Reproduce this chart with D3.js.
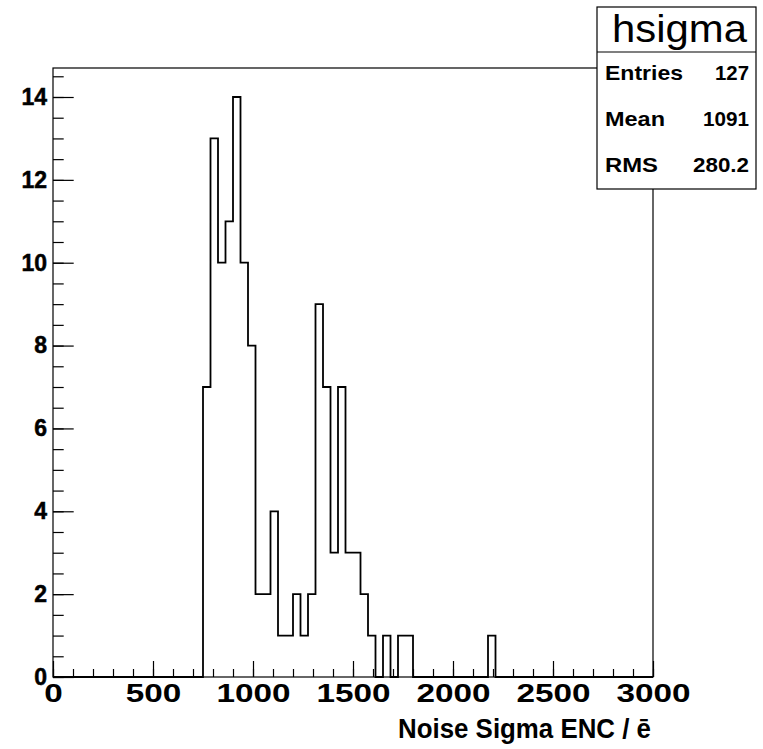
<!DOCTYPE html>
<html>
  <head>
    <meta charset="utf-8">
    <title>hsigma</title>
    <style>
      body { margin: 0; background: #fff; }
      svg { display: block; }
    </style>
  </head>
  <body>
    <div id="container"></div>
    <script src="https://cdn.jsdelivr.net/npm/d3@7/dist/d3.min.js"></script>
    <script>
      // histogram hsigma : 80 bins from 0 to 3000
      var xMin = 0, xMax = 3000, nBins = 80;
      var counts = [
        0,0,0,0,0,0,0,0,0,0,
        0,0,0,0,0,0,0,0,0,0,
        7,13,10,11,14,10,8,2,2,4,
        1,1,2,1,2,9,7,3,7,3,
        3,2,1,0,1,0,1,1,0,0,
        0,0,0,0,0,0,0,0,1,0,
        0,0,0,0,0,0,0,0,0,0,
        0,0,0,0,0,0,0,0,0,0
      ];
      var yMax = 14.7;
      var xMajor = [0, 500, 1000, 1500, 2000, 2500, 3000];
      var yMajor = [0, 2, 4, 6, 8, 10, 12, 14];
      var statNames = ["Entries", "Mean", "RMS"];
      var statValues = ["127", "1091", "280.2"];
      var histName = "hsigma";
      var xTitle = "Noise Sigma ENC / \u0113";

      var W = 763, H = 749;
      var margin = {top: 68, right: 110, bottom: 72, left: 53},
        width = W - margin.left - margin.right,
        height = H - margin.top - margin.bottom;

      var x = d3.scaleLinear().domain([xMin, xMax]).range([0, width]);
      var y = d3.scaleLinear().domain([0, yMax]).range([height, 0]);

      var svg = d3.select("#container").append("svg")
        .attr("width", W)
        .attr("height", H)
        .style("font-family", "'Liberation Sans', Arial, sans-serif");

      var g = svg.append("g")
        .attr("transform", "translate(" + margin.left + "," + margin.top + ")");

      // frame
      g.append("rect")
        .attr("x", 0).attr("y", 0)
        .attr("width", width).attr("height", height)
        .attr("fill", "none").attr("stroke", "#000").attr("stroke-width", 1.2);

      // histogram outline, ROOT style steps
      var bw = (xMax - xMin) / nBins;
      var pts = [[xMin, 0]];
      counts.forEach(function(c, i) {
        pts.push([xMin + i * bw, c]);
        pts.push([xMin + (i + 1) * bw, c]);
      });
      pts.push([xMax, 0]);

      g.append("path")
        .datum(pts)
        .attr("fill", "none")
        .attr("stroke", "#000")
        .attr("stroke-width", 1.8)
        .attr("d", d3.line().x(function(d) { return x(d[0]); }).y(function(d) { return y(d[1]); }));

      // y axis: minor ticks then major ticks with labels
      var yMinor = d3.range(0, yMax, 0.5);
      g.append("g")
        .call(d3.axisLeft(y).tickValues(yMinor).tickSize(-10.7).tickSizeOuter(0).tickFormat(""))
        .call(function(s) { s.select(".domain").remove(); });
      var ya = g.append("g")
        .call(d3.axisLeft(y).tickValues(yMajor).tickSize(-20.7).tickSizeOuter(0).tickPadding(6).tickFormat(d3.format("d")));
      ya.select(".domain").remove();
      ya.selectAll("text")
        .attr("font-size", 23).attr("font-weight", "bold")
        .attr("font-family", "'Liberation Sans', Arial, sans-serif")
        .attr("fill", "#000")
        .attr("stroke", "#000").attr("stroke-width", 0.5);

      // x axis
      var xMinor = d3.range(xMin, xMax + 1, 100);
      g.append("g")
        .attr("transform", "translate(0," + height + ")")
        .call(d3.axisBottom(x).tickValues(xMinor).tickSize(-8).tickSizeOuter(0).tickFormat(""))
        .call(function(s) { s.select(".domain").remove(); });
      var xa = g.append("g")
        .attr("transform", "translate(0," + height + ")")
        .call(d3.axisBottom(x).tickValues(xMajor).tickSize(-16).tickSizeOuter(0).tickPadding(7).tickFormat(d3.format("d")));
      xa.select(".domain").remove();
      xa.selectAll("text")
        .attr("font-size", 26).attr("font-weight", "bold")
        .attr("font-family", "'Liberation Sans', Arial, sans-serif")
        .attr("fill", "#000")
        .attr("textLength", function(d) { return String(d).length * 18.5; })
        .attr("lengthAdjust", "spacingAndGlyphs");

      g.selectAll(".tick line").attr("stroke", "#000").attr("stroke-width", 1.2);

      // x title
      g.append("text")
        .attr("x", width - 2)
        .attr("y", height + 61)
        .attr("text-anchor", "end")
        .attr("font-size", 27)
        .attr("font-weight", "bold")
        .attr("textLength", 253)
        .attr("lengthAdjust", "spacingAndGlyphs")
        .text(xTitle);

      // stats box
      var box = {x: 597, y: 7, w: 159, h: 182, split: 52};
      var sb = svg.append("g");
      sb.append("rect")
        .attr("x", box.x).attr("y", box.y)
        .attr("width", box.w).attr("height", box.h)
        .attr("fill", "#fff").attr("stroke", "#000").attr("stroke-width", 1.2);
      sb.append("line")
        .attr("x1", box.x).attr("x2", box.x + box.w)
        .attr("y1", box.split).attr("y2", box.split)
        .attr("stroke", "#000").attr("stroke-width", 1.2);
      sb.append("text")
        .attr("x", box.x + box.w / 2 + 3)
        .attr("y", 42)
        .attr("text-anchor", "middle")
        .attr("font-size", 39)
        .attr("textLength", 135)
        .attr("lengthAdjust", "spacingAndGlyphs")
        .text(histName);

      var rowY = [80, 126, 172];
      var nameW = [78, 60, 53];
      var valW = [34, 46, 56];
      statNames.forEach(function(n, i) {
        sb.append("text")
          .attr("x", box.x + 8).attr("y", rowY[i])
          .attr("font-size", 21).attr("font-weight", "bold")
          .attr("textLength", nameW[i]).attr("lengthAdjust", "spacingAndGlyphs")
          .text(n);
        sb.append("text")
          .attr("x", box.x + box.w - 7).attr("y", rowY[i])
          .attr("text-anchor", "end")
          .attr("font-size", 21).attr("font-weight", "bold")
          .attr("textLength", valW[i]).attr("lengthAdjust", "spacingAndGlyphs")
          .text(statValues[i]);
      });
    </script>
  </body>
</html>
